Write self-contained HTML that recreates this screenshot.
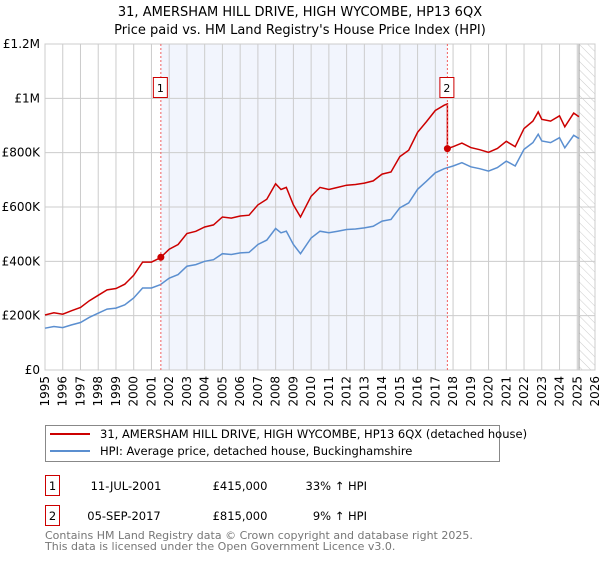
<!DOCTYPE html>
<html><head><meta charset="utf-8"><style>
body{margin:0;background:#fff;font-family:"DejaVu Sans","Liberation Sans",sans-serif;}
svg text{font-family:"DejaVu Sans","Liberation Sans",sans-serif;}
</style></head><body>
<svg id="c" width="600" height="560" xmlns="http://www.w3.org/2000/svg">
<defs><pattern id="hatch" width="6" height="6" patternUnits="userSpaceOnUse" patternTransform="rotate(-45)"><line x1="0" y1="0" x2="0" y2="6" stroke="#ccc" stroke-width="1"/></pattern></defs>
<text x="300" y="16" text-anchor="middle" font-size="13">31, AMERSHAM HILL DRIVE, HIGH WYCOMBE, HP13 6QX</text>
<text x="300" y="34" text-anchor="middle" font-size="13">Price paid vs. HM Land Registry's House Price Index (HPI)</text>
<g id="plot"></g>
<g>
<rect x="45.5" y="425.5" width="454" height="36" fill="#fff" stroke="#888"/>
<line x1="50" y1="434" x2="90" y2="434" stroke="#cc0000" stroke-width="2"/>
<text x="100" y="438" font-size="11.5">31, AMERSHAM HILL DRIVE, HIGH WYCOMBE, HP13 6QX (detached house)</text>
<line x1="50" y1="451" x2="90" y2="451" stroke="#5b8fd0" stroke-width="2"/>
<text x="100" y="455" font-size="11.5">HPI: Average price, detached house, Buckinghamshire</text>
</g>
<g font-size="11.5">
<rect x="45.5" y="475.5" width="14" height="20" fill="#fff" stroke="#cc0000"/>
<text x="52.5" y="490" text-anchor="middle">1</text>
<text x="126" y="490" text-anchor="middle">11-JUL-2001</text>
<text x="240" y="490" text-anchor="middle">£415,000</text>
<text x="367" y="490" text-anchor="end">33% ↑ HPI</text>
<rect x="45.5" y="505.5" width="14" height="20" fill="#fff" stroke="#cc0000"/>
<text x="52.5" y="520" text-anchor="middle">2</text>
<text x="124" y="520" text-anchor="middle">05-SEP-2017</text>
<text x="240" y="520" text-anchor="middle">£815,000</text>
<text x="367" y="520" text-anchor="end">9% ↑ HPI</text>
</g>
<text x="45" y="539" font-size="11" fill="#777">Contains HM Land Registry data © Crown copyright and database right 2025.</text>
<text x="45" y="550" font-size="11" fill="#777">This data is licensed under the Open Government Licence v3.0.</text>
</svg>
<script>
const hpiYears=[1995,1995.5,1996,1996.5,1997,1997.5,1998,1998.5,1999,1999.5,2000,2000.5,2001,2001.5,2002,2002.5,2003,2003.5,2004,2004.5,2005,2005.5,2006,2006.5,2007,2007.5,2008,2008.3,2008.6,2009,2009.4,2010,2010.5,2011,2011.5,2012,2012.5,2013,2013.5,2014,2014.5,2015,2015.5,2016,2016.5,2017,2017.5,2018,2018.5,2019,2019.5,2020,2020.5,2021,2021.5,2022,2022.5,2022.8,2023,2023.5,2024,2024.3,2024.8,2025.1];
const hpiValues=[154,160,156,166,175,194,209,224,228,240,265,302,302,314,338,351,382,388,400,406,428,425,431,433,462,478,521,505,511,462,428,486,511,505,511,517,519,523,529,548,554,597,615,665,695,726,741,751,763,748,741,732,745,769,751,812,837,868,843,837,855,818,864,852];
const saleYears=[2001.53,2017.68];
const salePrices=[415,815];
const saleLabels=["1","2"];
const yTicks=[0,200,400,600,800,1000,1200];
const yTickLabels=["£0","£200K","£400K","£600K","£800K","£1M","£1.2M"];
const xTicks=[1995,1996,1997,1998,1999,2000,2001,2002,2003,2004,2005,2006,2007,2008,2009,2010,2011,2012,2013,2014,2015,2016,2017,2018,2019,2020,2021,2022,2023,2024,2025,2026];

const L=45,R=595,T=44,B=370;
const xs=y=>L+(y-1995)/(2026-1995)*(R-L);
const ys=v=>B-v/1200*(B-T);
const NS="http://www.w3.org/2000/svg";
const g=document.getElementById('plot');
function mk(t,a,p){const e=document.createElementNS(NS,t);for(const k in a)e.setAttribute(k,a[k]);(p||g).appendChild(e);return e;}
function hpiAt(y){for(let i=0;i<hpiYears.length-1;i++){if(y<=hpiYears[i+1]){const f=(y-hpiYears[i])/(hpiYears[i+1]-hpiYears[i]);return hpiValues[i]+f*(hpiValues[i+1]-hpiValues[i]);}}return hpiValues[hpiValues.length-1];}

mk('rect',{x:L,y:T,width:R-L,height:B-T,fill:'#fff'});
let sh=mk('rect',{x:xs(saleYears[0]),y:T,width:xs(saleYears[1])-xs(saleYears[0]),height:B-T,fill:'#f2f5fd'});


let ht=mk('rect',{x:xs(2025.1),y:T,width:R-xs(2025.1),height:B-T,fill:'url(#hatch)'});


mk('line',{x1:xs(2025.1),y1:T,x2:xs(2025.1),y2:B,stroke:'#999','stroke-width':1});
xTicks.forEach(y=>{
  const x=xs(y);
  mk('line',{x1:x,y1:T,x2:x,y2:B,stroke:'#ccc','stroke-width':1});
  const t=mk('text',{x:0,y:0,'font-size':12,'text-anchor':'end',transform:`translate(${x+4},${B+6}) rotate(-90)`});
  
  
  t.textContent=y;
});
yTicks.forEach((v,i)=>{
  const y=ys(v);
  mk('line',{x1:L,y1:y,x2:R,y2:y,stroke:'#ccc','stroke-width':1});
  const t=mk('text',{x:L-5,y:y+4,'font-size':12,'text-anchor':'end'});
  
  
  t.textContent=yTickLabels[i];
});
mk('rect',{x:L,y:T,width:R-L,height:B-T,fill:'none',stroke:'#ccc'});
let hp=mk('path',{d:hpiYears.map((y,i)=>(i?'L':'M')+xs(y).toFixed(1)+','+ys(hpiValues[i]).toFixed(1)).join(''),fill:'none',stroke:'#5b8fd0','stroke-width':1.5});


let d='';
hpiYears.forEach((y,i)=>{
  let k=(y<saleYears[1])?0:1;
  const r=salePrices[k]/hpiAt(saleYears[k]);
  if(i>0&&hpiYears[i-1]<saleYears[1]&&y>=saleYears[1]){
    const r0=salePrices[0]/hpiAt(saleYears[0]);
    d+='L'+xs(saleYears[1]).toFixed(1)+','+ys(hpiAt(saleYears[1])*r0).toFixed(1);
    d+='L'+xs(saleYears[1]).toFixed(1)+','+ys(salePrices[1]).toFixed(1);
  }
  d+=(i?'L':'M')+xs(y).toFixed(1)+','+ys(hpiValues[i]*r).toFixed(1);
});
let pl=mk('path',{d:d,fill:'none',stroke:'#cc0000','stroke-width':1.5});


saleYears.forEach((y,i)=>{
  const x=xs(y);
  mk('line',{x1:x,y1:T,x2:x,y2:B,stroke:'#f06060','stroke-dasharray':'2,2','stroke-width':1});
  const c=mk('circle',{cx:x,cy:ys(salePrices[i]),r:3.5,fill:'#cc0000'});
  
  
  const b=mk('rect',{x:x-7.5,y:77.5,width:14,height:20,fill:'#fff',stroke:'#cc0000'});
  
  
  const t=mk('text',{x:x-0.5,y:92,'font-size':11,'text-anchor':'middle'});
  t.textContent=saleLabels[i];
});
</script>
</body></html>
